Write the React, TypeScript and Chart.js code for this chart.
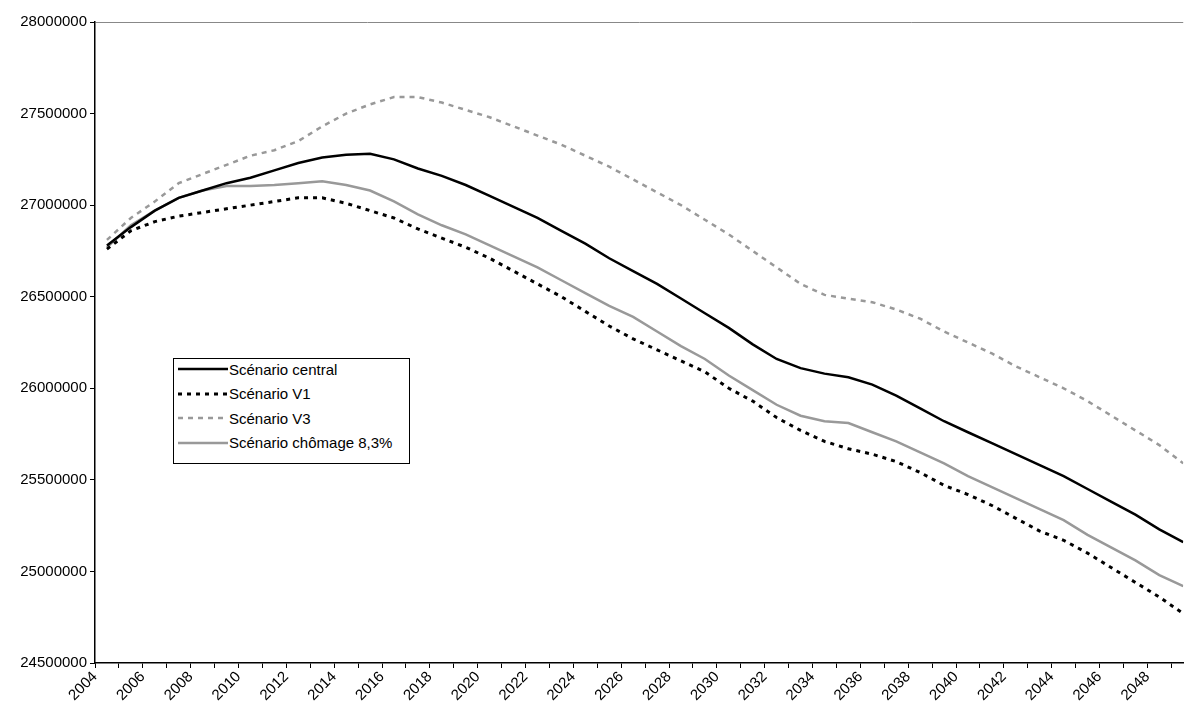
import { useEffect, useRef } from 'react';
import { Chart, registerables } from 'chart.js';

Chart.register(...registerables);

const years = Array.from({ length: 46 }, (_, i) => 2004 + i);

const central = [26.78, 26.88, 26.97, 27.04, 27.08, 27.12, 27.15, 27.19, 27.23, 27.26, 27.275, 27.28, 27.25, 27.2, 27.16, 27.11, 27.05, 26.99, 26.93, 26.86, 26.79, 26.71, 26.64, 26.57, 26.49, 26.41, 26.33, 26.24, 26.16, 26.11, 26.08, 26.06, 26.02, 25.96, 25.89, 25.82, 25.76, 25.7, 25.64, 25.58, 25.52, 25.45, 25.38, 25.31, 25.23, 25.16];
const v1 = [26.76, 26.86, 26.91, 26.94, 26.96, 26.98, 27.0, 27.02, 27.04, 27.04, 27.01, 26.97, 26.93, 26.87, 26.82, 26.77, 26.71, 26.64, 26.57, 26.5, 26.42, 26.34, 26.27, 26.21, 26.15, 26.09, 26.0, 25.93, 25.84, 25.77, 25.71, 25.67, 25.64, 25.6, 25.54, 25.47, 25.42, 25.36, 25.29, 25.22, 25.17, 25.1, 25.02, 24.94, 24.86, 24.77];
const v3 = [26.81, 26.93, 27.02, 27.12, 27.17, 27.22, 27.27, 27.3, 27.35, 27.43, 27.5, 27.55, 27.59, 27.59, 27.56, 27.52, 27.48, 27.43, 27.38, 27.33, 27.27, 27.21, 27.14, 27.07, 27.0, 26.92, 26.84, 26.75, 26.66, 26.57, 26.51, 26.49, 26.47, 26.43, 26.38, 26.31, 26.25, 26.19, 26.12, 26.06, 26.0, 25.93, 25.85, 25.77, 25.69, 25.59];
const chomage = [26.77, 26.89, 26.97, 27.04, 27.08, 27.105, 27.105, 27.11, 27.12, 27.13, 27.11, 27.08, 27.02, 26.95, 26.89, 26.84, 26.78, 26.72, 26.66, 26.59, 26.52, 26.45, 26.39, 26.31, 26.23, 26.16, 26.07, 25.99, 25.91, 25.85, 25.82, 25.81, 25.76, 25.71, 25.65, 25.59, 25.52, 25.46, 25.4, 25.34, 25.28, 25.2, 25.13, 25.06, 24.98, 24.92];

const series = [
  { label: 'Scénario central', data: central, color: '#000000', dash: [] as number[], width: 2.5 },
  { label: 'Scénario V1', data: v1, color: '#000000', dash: [4, 5], width: 3 },
  { label: 'Scénario V3', data: v3, color: '#999999', dash: [5, 5], width: 2.5 },
  { label: 'Scénario chômage 8,3%', data: chomage, color: '#999999', dash: [] as number[], width: 2.5 },
];

const font = { family: 'Liberation Sans, Arial, sans-serif', size: 15 };

export default function App() {
  const canvasRef = useRef<HTMLCanvasElement>(null);
  const chartRef = useRef<Chart | null>(null);

  useEffect(() => {
    if (!canvasRef.current) return;
    chartRef.current?.destroy();
    chartRef.current = new Chart(canvasRef.current, {
      type: 'line',
      data: {
        datasets: series.map(s => ({
          label: s.label,
          data: s.data.map((v, i) => ({ x: years[i], y: v * 1e6 })),
          borderColor: s.color,
          borderDash: s.dash,
          borderWidth: s.width,
          pointRadius: 0,
          tension: 0,
          fill: false,
        })),
      },
      options: {
        animation: false,
        responsive: false,
        layout: { padding: { top: 22, right: 0, left: 0, bottom: 0 } },
        plugins: { legend: { display: false }, tooltip: { enabled: false } },
        scales: {
          x: {
            type: 'linear',
            min: 2003.5,
            max: 2049,
            afterFit: (s: any) => { s.height = 49; },
            afterBuildTicks: (s: any) => { s.ticks = years.map(y => ({ value: y - 0.5 })); },
            grid: { drawOnChartArea: false, color: '#000', tickLength: 5 },
            border: { color: '#000', width: 1.5 },
            ticks: {
              autoSkip: false,
              maxRotation: 45,
              minRotation: 45,
              color: '#000',
              font,
              padding: 0,
              callback: (v: any) => { const y = Math.round(v + 0.5); return (y - 2004) % 2 === 0 ? String(y) : ''; },
            },
          },
          y: {
            min: 24500000,
            max: 28000000,
            afterFit: (s: any) => { s.width = 95; },
            grid: {
              color: (ctx: any) => (ctx.tick && ctx.tick.value === 28000000 ? '#888' : 'rgba(0,0,0,0)'),
              tickColor: '#000',
              tickLength: 5,
            },
            border: { color: '#000', width: 1.5 },
            ticks: { stepSize: 500000, color: '#000', font, callback: (v: any) => String(v) },
          },
        },
      },
    });
    return () => { chartRef.current?.destroy(); chartRef.current = null; };
  }, []);

  return (
    <div style={{ position: 'absolute', left: 0, top: 0, width: 1184, height: 712, background: '#fff' }}>
      <canvas ref={canvasRef} width={1184} height={712} />
      <div style={{ position: 'absolute', left: 173, top: 358, width: 237, height: 106, border: '1px solid #000', boxSizing: 'border-box', background: '#fff', fontFamily: font.family, fontSize: 15, padding: '0 0 0 4px' }}>
        {series.map(s => (
          <div key={s.label} style={{ display: 'flex', alignItems: 'center', height: 20, marginTop: s === series[0] ? 0 : 4.6 }}>
            <svg width={50} height={6} style={{ flex: 'none', marginRight: 1 }}>
              <line x1={0} y1={3} x2={50} y2={3} stroke={s.color} strokeWidth={s.width} strokeDasharray={s.dash.join(' ')} />
            </svg>
            <span style={{ whiteSpace: 'nowrap' }}>{s.label}</span>
          </div>
        ))}
      </div>
    </div>
  );
}
